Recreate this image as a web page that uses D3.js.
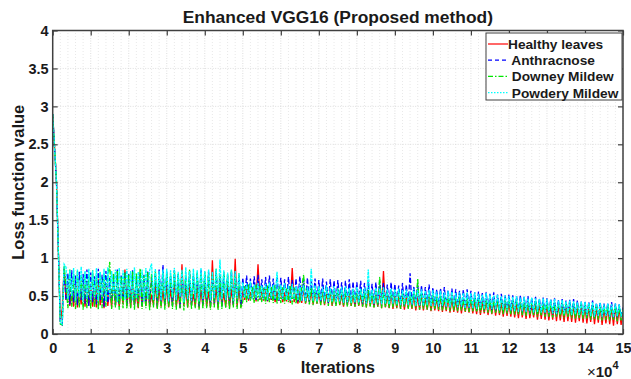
<!DOCTYPE html>
<html>
<head>
<meta charset="utf-8">
<script src="https://cdn.jsdelivr.net/npm/d3@7"></script>
<style>
  body { margin: 0; background: #fff; }
  text { font-family: "Liberation Sans", Arial, sans-serif; font-weight: bold; fill: #1a1a1a; }
</style>
</head>
<body>
<div id="chart"></div>
<script>
// iteration positions: first few points, then every 500 iterations
const iterations = [0, 1000, 2000, 2500].concat(d3.range(3000, 150001, 500));

const healthy = [2.9, 2.0, 0.16, 0.33, 0.88,
  .45,.63,.37,.58,.36,.70,.35,.55,.39,.66,.36,.60,.38,
  .64,.36,.57,.35,.72,.38,.52,.34,.67,.37,.59,.35,.69,.38,.55,.36,.63,.39,.85,.37,
  .61,.35,.66,.38,.54,.34,.70,.36,.58,.37,.64,.35,.52,.38,.68,.34,.60,.36,.57,.37,
  .65,.35,.59,.38,.71,.36,.55,.34,.92,.37,.62,.35,.67,.38,.53,.36,.69,.34,.58,.37,
  .63,.36,.56,.35,.97,.38,.61,.34,.68,.37,.54,.36,.66,.35,.59,.38,.99,.36,.62,.35,
  .58,.45,.62,.44,.55,.46,.60,.43,.92,.45,.57,.44,.61,.43,.54,.45,.59,.42,.56,.44,
  .60,.42,.55,.43,.58,.41,.87,.42,.53,.40,.57,.41,.60,.40,.54,.42,.56,.39,.59,.40,
  .55,.39,.58,.38,.53,.40,.57,.37,.54,.39,.59,.38,.52,.36,.56,.38,.55,.37,.53,.36,
  .57,.37,.52,.36,.55,.35,.58,.37,.51,.35,.54,.36,.56,.34,.83,.35,.52,.34,.55,.33,
  .53,.34,.50,.33,.54,.32,.51,.34,.49,.33,.52,.31,.50,.32,.53,.31,.48,.32,.51,.30,
  .49,.31,.47,.30,.50,.29,.46,.30,.48,.28,.47,.29,.45,.28,.49,.27,.46,.29,.44,.28,
  .46,.27,.44,.26,.47,.25,.43,.27,.45,.25,.42,.26,.44,.24,.46,.25,.41,.23,.43,.24,
  .42,.23,.44,.22,.40,.21,.43,.22,.41,.20,.42,.21,.39,.22,.41,.19,.40,.20,.42,.19,
  .40,.18,.38,.19,.41,.17,.39,.18,.37,.16,.40,.17,.38,.16,.39,.15,.37,.17,.38,.15,
  .37,.14,.36,.16,.38,.13,.35,.15,.37,.12,.34,.14,.36,.13,.35,.11,.37,.13,.34,.12,
  .30];

const anthracnose = [2.9, 2.0, 0.14, 0.12, 0.86,
  .44,.80,.39,.84,.42,.77,.38,.82,.45,.79,.40,.85,.37,
  .81,.42,.76,.39,.86,.44,.78,.36,.83,.41,.74,.43,.80,.38,.85,.40,.77,.45,.82,.37,
  .79,.41,.84,.38,.76,.43,.81,.36,.78,.42,.83,.39,.75,.44,.80,.37,.85,.40,.91,.38,
  .82,.41,.77,.37,.84,.43,.79,.35,.81,.40,.76,.44,.83,.38,.78,.42,.80,.36,.85,.39,
  .78,.43,.82,.37,.76,.41,.84,.39,.79,.36,.81,.44,.77,.40,.83,.38,.80,.42,.78,.37,
  .74,.47,.77,.46,.73,.48,.76,.45,.78,.47,.72,.46,.75,.44,.77,.46,.73,.45,.76,.44,
  .74,.46,.72,.45,.75,.44,.71,.45,.73,.43,.76,.44,.72,.43,.74,.42,.70,.44,.73,.43,
  .71,.42,.73,.43,.69,.41,.72,.42,.70,.40,.71,.42,.68,.41,.70,.40,.72,.41,.69,.40,
  .68,.41,.70,.39,.67,.40,.69,.40,.66,.39,.68,.38,.70,.40,.67,.39,.65,.38,.68,.39,
  .66,.39,.64,.38,.67,.37,.65,.38,.80,.37,.63,.38,.66,.36,.64,.37,.62,.38,.65,.37,
  .61,.37,.59,.36,.60,.35,.62,.36,.58,.35,.60,.34,.59,.35,.57,.34,.58,.33,.59,.34,
  .57,.33,.55,.32,.56,.33,.54,.31,.55,.32,.53,.31,.55,.30,.52,.31,.53,.30,.51,.30,
  .52,.30,.51,.29,.50,.29,.51,.28,.49,.29,.50,.27,.48,.28,.49,.27,.47,.28,.48,.27,
  .47,.27,.46,.26,.47,.25,.45,.26,.46,.25,.44,.26,.45,.24,.46,.25,.44,.24,.43,.25,
  .43,.24,.42,.23,.44,.22,.41,.23,.42,.22,.40,.23,.41,.22,.42,.21,.40,.22,.39,.23,
  .35];

const downey = [2.9, 2.0, 0.13, 0.12, 0.90,
  .62,.34,.85,.36,.79,.33,.83,.35,.76,.32,.81,.34,.78,
  .33,.84,.35,.77,.32,.82,.34,.79,.36,.75,.95,.33,.80,.35,.83,.32,.76,.34,.81,.33,
  .78,.34,.83,.32,.80,.35,.86,.33,.77,.34,.82,.31,.79,.35,.84,.33,.76,.34,.81,.32,
  .80,.35,.77,.33,.84,.32,.79,.34,.82,.31,.78,.35,.85,.33,.76,.34,.81,.32,.79,.33,
  .83,.34,.78,.32,.80,.35,.86,.31,.77,.33,.82,.34,.79,.32,.84,.35,.78,.33,.80,.34,
  .43,.64,.42,.66,.44,.62,.41,.65,.43,.63,.42,.61,.40,.64,.42,.62,.41,.65,.40,.63,
  .41,.62,.40,.60,.42,.63,.39,.61,.40,.59,.41,.62,.78,.40,.60,.39,.61,.38,.59,.40,
  .60,.38,.58,.39,.61,.37,.59,.38,.57,.36,.60,.38,.58,.37,.59,.36,.57,.37,.58,.36,
  .57,.37,.59,.36,.56,.35,.58,.36,.55,.35,.57,.36,.75,.34,.56,.35,.55,.34,.57,.35,
  .55,.34,.56,.33,.54,.35,.55,.33,.53,.34,.56,.33,.73,.32,.54,.33,.52,.32,.53,.31,
  .52,.33,.50,.32,.51,.31,.49,.32,.50,.30,.51,.31,.48,.30,.49,.31,.47,.30,.48,.29,
  .48,.30,.47,.29,.46,.28,.47,.29,.45,.28,.46,.27,.45,.28,.44,.27,.45,.26,.44,.27,
  .44,.26,.45,.25,.43,.26,.42,.25,.43,.24,.42,.25,.41,.24,.43,.23,.41,.24,.40,.23,
  .41,.23,.42,.22,.40,.23,.39,.22,.40,.21,.41,.22,.39,.21,.40,.20,.38,.21,.39,.20,
  .38,.20,.39,.19,.37,.20,.38,.19,.36,.18,.37,.19,.38,.18,.36,.19,.37,.17,.36,.18,
  .33];

const powdery = [2.9, 2.0, 0.15, 0.13, 0.92,
  .88,.46,.84,.50,.87,.44,.85,.48,.89,.43,.83,.47,.86,
  .45,.84,.48,.87,.43,.82,.49,.86,.44,.88,.46,.83,.50,.85,.42,.87,.47,.84,.45,.86,
  .48,.83,.44,.88,.47,.82,.50,.85,.43,.87,.46,.84,.93,.45,.86,.49,.83,.44,.85,.47,
  .86,.43,.84,.48,.87,.45,.82,.49,.85,.42,.88,.46,.83,.44,.86,.47,.84,.43,.87,.46,
  .83,.48,.85,.44,.82,.47,.86,.43,.98,.46,.84,.45,.81,.48,.85,.44,.83,.47,.80,.45,
  .68,.48,.66,.47,.69,.46,.65,.48,.67,.47,.64,.46,.66,.45,.68,.47,.65,.46,.82,.45,
  .65,.46,.67,.45,.64,.44,.66,.46,.63,.45,.65,.44,.64,.43,.62,.45,.86,.44,.64,.43,
  .63,.44,.62,.43,.64,.42,.61,.43,.63,.42,.60,.43,.62,.41,.63,.42,.61,.41,.60,.42,
  .62,.41,.60,.42,.61,.40,.85,.41,.59,.40,.61,.41,.60,.39,.62,.40,.59,.39,.60,.40,
  .59,.39,.60,.38,.58,.39,.59,.38,.57,.39,.60,.37,.58,.38,.59,.37,.57,.38,.58,.37,
  .58,.37,.56,.36,.57,.37,.55,.36,.57,.35,.56,.36,.54,.35,.55,.36,.54,.34,.55,.35,
  .54,.34,.55,.33,.53,.34,.52,.33,.54,.32,.52,.33,.51,.32,.52,.31,.50,.32,.51,.31,
  .50,.31,.49,.30,.50,.29,.48,.30,.49,.29,.47,.30,.48,.28,.47,.29,.46,.28,.47,.28,
  .46,.28,.45,.27,.46,.26,.44,.27,.45,.26,.43,.27,.44,.25,.43,.26,.42,.25,.43,.25,
  .42,.25,.41,.24,.42,.23,.40,.24,.41,.23,.39,.24,.40,.23,.39,.22,.40,.23,.39,.24,
  .30];

const seriesNames = ["Healthy leaves", " Anthracnose", " Downey Mildew", " Powdery Mildew"];
const seriesData = [healthy, anthracnose, downey, powdery];
const seriesColors = ["#ff0000", "#0000ff", "#00e600", "#00ffff"];
const seriesDash = [null, "5,2", "5,1.5,1.5,1.5", "3,0.8"];
const legendDash = [null, "4,3", "5,2,1.5,2", "1.5,1.5"];

const xTicks = d3.range(0, 150001, 10000);
const yTicks = d3.range(0, 4.01, 0.5);

const width = 631, height = 379;
const margin = {top: 30.5, right: 8, bottom: 45, left: 52.7};

const svg = d3.select("#chart").append("svg")
  .attr("width", width)
  .attr("height", height);

const x = d3.scaleLinear().domain([0, 150000]).range([margin.left, width - margin.right]);
const y = d3.scaleLinear().domain([0, 4]).range([height - margin.bottom, margin.top]);

// grid
const grid = svg.append("g");
grid.selectAll(".minorx")
  .data(d3.range(0, 150001, 2000).filter(d => d % 10000 !== 0))
  .enter().append("line")
  .attr("x1", d => x(d)).attr("x2", d => x(d))
  .attr("y1", y(0)).attr("y2", y(4))
  .attr("stroke", "#d8d8d8").attr("stroke-width", 0.6)
  .attr("stroke-dasharray", "1,2");
grid.selectAll(".majorx")
  .data(xTicks)
  .enter().append("line")
  .attr("x1", d => x(d)).attr("x2", d => x(d))
  .attr("y1", y(0)).attr("y2", y(4))
  .attr("stroke", "#d0d0d0").attr("stroke-width", 0.7)
  .attr("stroke-dasharray", "1,1.5");
grid.selectAll(".majory")
  .data(yTicks)
  .enter().append("line")
  .attr("x1", x(0)).attr("x2", x(150000))
  .attr("y1", d => y(d)).attr("y2", d => y(d))
  .attr("stroke", "#d0d0d0").attr("stroke-width", 0.7)
  .attr("stroke-dasharray", "1,1.5");

// lines
svg.append("clipPath").attr("id", "clip")
  .append("rect")
  .attr("x", x(0)).attr("y", y(4))
  .attr("width", x(150000) - x(0)).attr("height", y(0) - y(4));

const line = d3.line()
  .x((d, i) => x(iterations[i]))
  .y(d => y(d));

svg.append("g").attr("clip-path", "url(#clip)")
  .selectAll("path")
  .data(seriesData)
  .enter().append("path")
  .attr("d", line)
  .attr("fill", "none")
  .attr("stroke", (d, i) => seriesColors[i])
  .attr("stroke-width", 1.3)
  .attr("stroke-dasharray", (d, i) => seriesDash[i]);

// axes, ticks pointing inward
const fmtX = d => d / 10000;
const fmtY = d => d3.format("~g")(d);

const gx = svg.append("g")
  .attr("transform", `translate(0,${y(0)})`)
  .call(d3.axisBottom(x).tickValues(xTicks).tickFormat(fmtX).tickSizeInner(-5).tickSizeOuter(0).tickPadding(9));
const gy = svg.append("g")
  .attr("transform", `translate(${x(0)},0)`)
  .call(d3.axisLeft(y).tickValues(yTicks).tickFormat(fmtY).tickSizeInner(-5).tickSizeOuter(0).tickPadding(4));
const gt = svg.append("g")
  .attr("transform", `translate(0,${y(4)})`)
  .call(d3.axisTop(x).tickValues(xTicks).tickFormat("").tickSizeInner(-5).tickSizeOuter(0));
const gr = svg.append("g")
  .attr("transform", `translate(${x(150000)},0)`)
  .call(d3.axisRight(y).tickValues(yTicks).tickFormat("").tickSizeInner(-5).tickSizeOuter(0));

[gx, gy, gt, gr].forEach(g => {
  g.select(".domain").remove();
  g.selectAll(".tick line").attr("stroke", "#404040").attr("stroke-width", 1.2);
  g.selectAll("text").attr("font-size", 14.5).attr("font-family", null).attr("fill", "#1a1a1a");
});

svg.append("rect")
  .attr("x", x(0)).attr("y", y(4))
  .attr("width", x(150000) - x(0)).attr("height", y(0) - y(4))
  .attr("fill", "none")
  .attr("stroke", "#404040")
  .attr("stroke-width", 1.5);

// title and labels
svg.append("text")
  .attr("x", (x(0) + x(150000)) / 2).attr("y", 23)
  .attr("text-anchor", "middle").attr("font-size", 17.4)
  .text("Enhanced VGG16 (Proposed method)");

svg.append("text")
  .attr("x", (x(0) + x(150000)) / 2).attr("y", 373)
  .attr("text-anchor", "middle").attr("font-size", 16.5)
  .text("Iterations");

svg.append("text")
  .attr("transform", `translate(24,${(y(0) + y(4)) / 2}) rotate(-90)`)
  .attr("text-anchor", "middle").attr("font-size", 16.5)
  .text("Loss function value");

const exp = svg.append("text")
  .attr("x", 587).attr("y", 377)
  .attr("font-size", 15);
exp.append("tspan").attr("font-weight", "normal").text("\u00d7");
exp.append("tspan").text("10");
exp.append("tspan").attr("dy", -8).attr("font-size", 11).text("4");

// legend
const legend = svg.append("g");
legend.append("rect")
  .attr("x", 486).attr("y", 33)
  .attr("width", 136).attr("height", 67)
  .attr("fill", "#fff")
  .attr("stroke", "#404040")
  .attr("stroke-width", 1);

const rows = legend.selectAll(".row")
  .data(seriesNames)
  .enter().append("g")
  .attr("transform", (d, i) => `translate(0,${44 + i * 16.2})`);

rows.append("line")
  .attr("x1", 488).attr("x2", 508)
  .attr("y1", 0).attr("y2", 0)
  .attr("stroke", (d, i) => seriesColors[i])
  .attr("stroke-width", 1.2)
  .attr("stroke-dasharray", (d, i) => legendDash[i]);

rows.append("text")
  .attr("x", 508).attr("y", 0)
  .attr("dy", "0.36em")
  .attr("font-size", 13.7)
  .style("white-space", "pre")
  .text(d => d);
</script>
</body>
</html>
